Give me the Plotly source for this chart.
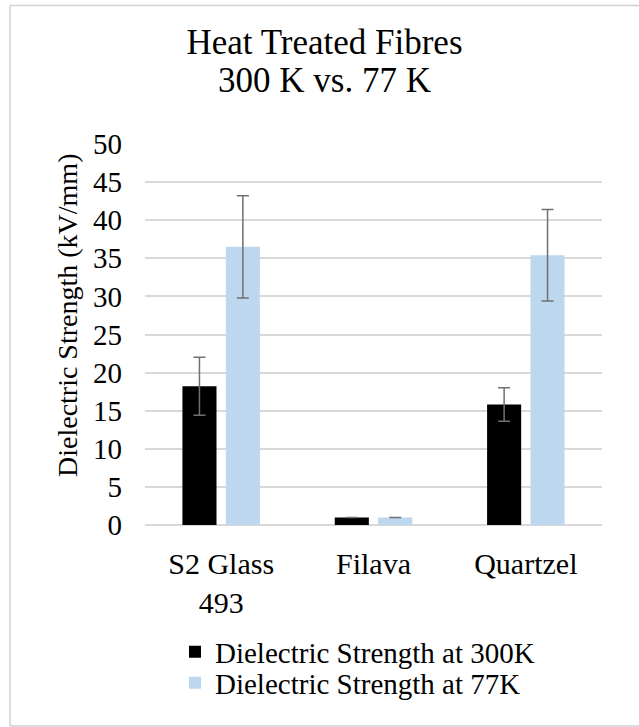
import plotly.graph_objects as go

categories = ["S2 Glass<br>493", "Filava", "Quartzel"]
series_names = ["Dielectric Strength at 300K", "Dielectric Strength at 77K"]
values_300k = [18.2, 1.0, 15.8]
errors_300k = [3.8, 0.0, 2.2]
values_77k = [36.5, 1.0, 35.4]
errors_77k = [6.7, 0.0, 6.0]
colors = ["#000000", "#bdd7ee"]
y_ticks = [0, 5, 10, 15, 20, 25, 30, 35, 40, 45, 50]
title_lines = ["Heat Treated Fibres", "300 K vs. 77 K"]

FONT = "Liberation Serif"
W, H = 639, 727
ML, MR, MT, MB = 145, 37, 144, 202
PW = W - ML - MR
PH = H - MT - MB


def px_to_paper_x(px):
    return (px - ML) / PW


def px_to_paper_y(py):
    return (H - MB - py) / PH


fig = go.Figure()
for name, vals, errs, col, leg in [
    (series_names[0], values_300k, errors_300k, colors[0], "legend"),
    (series_names[1], values_77k, errors_77k, colors[1], "legend2"),
]:
    fig.add_trace(go.Bar(
        x=categories, y=vals, name=name, legend=leg,
        marker=dict(color=col, line=dict(width=0)),
        error_y=dict(type="data", array=errs, visible=True,
                     color="#707070", thickness=1.5, width=6),
    ))

leg_common = dict(orientation="v", xanchor="left", yanchor="middle",
                  font=dict(size=29, family=FONT, color="#000000"),
                  bgcolor="rgba(0,0,0,0)", itemwidth=30)

border_line = dict(color="#d0d0d0", width=1.5)
bx0, bx1 = px_to_paper_x(10), px_to_paper_x(W)
by0, by1 = px_to_paper_y(726), px_to_paper_y(5.5)

fig.update_layout(
    width=W, height=H,
    margin=dict(l=ML, r=MR, t=MT, b=MB, autoexpand=False),
    paper_bgcolor="white", plot_bgcolor="white",
    font=dict(family=FONT, color="#000000"),
    barmode="group", bargap=0.43, bargroupgap=0.215,
    title=dict(text=title_lines[0],
               font=dict(size=35, family=FONT, color="#000000"),
               x=324.5 / W, xanchor="center", xref="container",
               y=1 - 42 / H, yanchor="middle", yref="container"),
    xaxis=dict(showgrid=False, showline=False, ticks="", automargin=False,
               ticklabelstandoff=18,
               tickfont=dict(size=30, family=FONT, color="#000000")),
    yaxis=dict(range=[0, 50], tickvals=y_ticks, showgrid=True,
               gridcolor="#d9d9d9", gridwidth=1.5, zeroline=True,
               zerolinecolor="#d9d9d9", zerolinewidth=1.5, automargin=False,
               showline=False, ticks="", ticklabelstandoff=22,
               tickfont=dict(size=29, family=FONT, color="#000000")),
    legend=dict(x=px_to_paper_x(175), y=px_to_paper_y(652), **leg_common),
    legend2=dict(x=px_to_paper_x(175), y=px_to_paper_y(683), **leg_common),
    showlegend=True,
    annotations=[
        dict(text=title_lines[1], x=px_to_paper_x(324.5), y=px_to_paper_y(80),
             xref="paper", yref="paper", showarrow=False,
             xanchor="center", yanchor="middle",
             font=dict(size=35, family=FONT, color="#000000")),
        dict(text="Dielectric Strength (kV/mm)", textangle=-90,
             x=px_to_paper_x(67), y=px_to_paper_y(316),
             xref="paper", yref="paper", showarrow=False,
             xanchor="center", yanchor="middle",
             font=dict(size=28, family=FONT, color="#000000")),
    ],
    shapes=[
        dict(type="line", xref="paper", yref="paper", x0=bx0, x1=bx0,
             y0=by0, y1=by1, line=border_line, layer="below"),
        dict(type="line", xref="paper", yref="paper", x0=bx0, x1=bx1,
             y0=by1, y1=by1, line=border_line, layer="below"),
        dict(type="line", xref="paper", yref="paper", x0=bx0, x1=bx1,
             y0=by0, y1=by0, line=border_line, layer="below"),
    ],
)

fig.write_html("out.html",
               config={"displayModeBar": False},
               post_script="document.body.style.margin='0';"
                           "document.documentElement.style.overflow='hidden';")
